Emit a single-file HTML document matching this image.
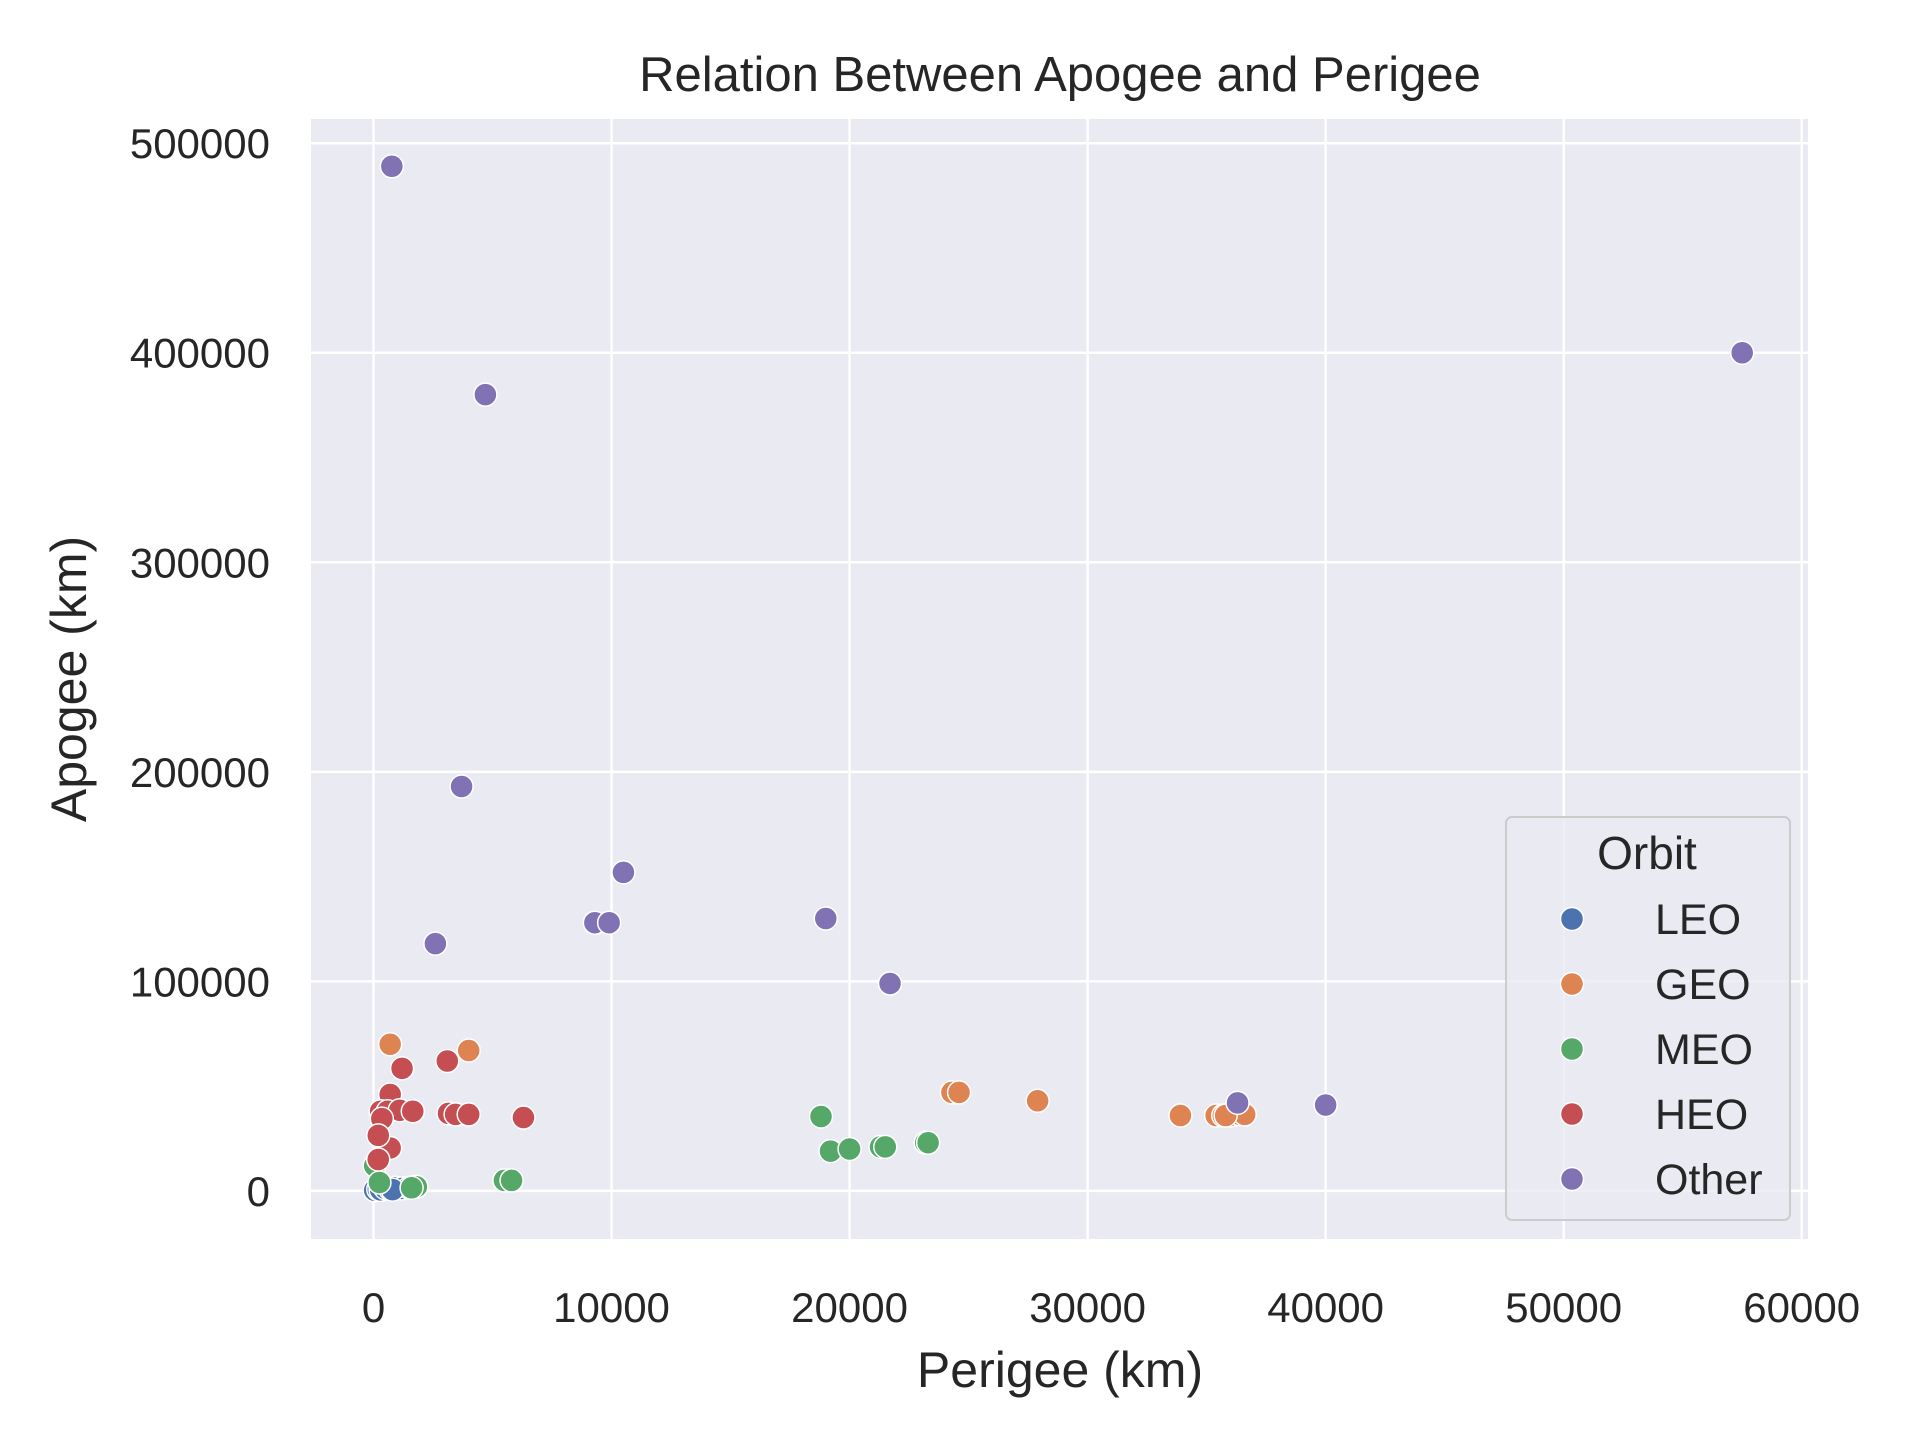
<!DOCTYPE html>
<html><head><meta charset="utf-8"><style>
html,body{margin:0;padding:0;background:#fff}
svg{display:block;font-family:"Liberation Sans",Arial,sans-serif}
</style></head><body>
<svg id="chart" width="1920" height="1440" viewBox="0 0 1920 1440">
<rect x="311" y="119" width="1497" height="1120" fill="#eaeaf2"/>
<g id="grid"></g>
<g id="points"></g>
<g id="ticks" fill="#262626" font-size="42"></g>
<text x="1060" y="91" text-anchor="middle" font-size="49" fill="#262626">Relation Between Apogee and Perigee</text>
<text x="1060" y="1387" text-anchor="middle" font-size="50" fill="#262626">Perigee (km)</text>
<text transform="translate(86,679) rotate(-90)" text-anchor="middle" font-size="50" fill="#262626">Apogee (km)</text>
<g id="legend">
<rect x="1506" y="817" width="284" height="403" rx="6" fill="#eaeaf2" fill-opacity="0.8" stroke="#cccccc" stroke-width="2"/>
<text x="1647" y="869" text-anchor="middle" font-size="46" fill="#262626">Orbit</text>
</g>
</svg>
<script>
const categories = ["LEO","GEO","MEO","HEO","Other"];
const colors = ["#4c72b0","#dd8452","#55a868","#c44e52","#8172b3"];
const xTicks = [0,10000,20000,30000,40000,50000,60000];
const yTicks = [0,100000,200000,300000,400000,500000];
const leoPerigee = [50,200,300,500,700,900,1200,1500,800];
const leoApogee  = [300,800,500,1200,900,1500,1200,1500,600];
const geoPerigee = [700,4000,24300,24600,27900,33900,35400,35700,36000,36400,36600,35800];
const geoApogee  = [70000,67000,47000,47000,43000,36000,36000,36000,36000,36500,36500,36000];
const meoPerigee = [18800,19200,20000,21300,21500,23200,23300,5500,5800,50,250,1800,1600];
const meoApogee  = [35500,19000,20000,21000,21000,23000,23000,5000,5000,12000,4000,2000,1500];
const heoPerigee = [1200,3100,700,300,600,1100,1650,3150,3450,4000,6300,350,700,200,200];
const heoApogee  = [58500,62000,46000,38000,38000,38500,38000,37000,36500,36500,35000,34500,20500,26500,15000];
const otherPerigee = [770,57500,4700,3700,10500,9300,9900,19000,2600,21700,36300,40000];
const otherApogee  = [489000,400000,380000,193000,152000,128000,128000,130000,118000,99000,42000,41000];
const seriesX = [leoPerigee,geoPerigee,meoPerigee,heoPerigee,otherPerigee];
const seriesY = [leoApogee,geoApogee,meoApogee,heoApogee,otherApogee];
const NS="http://www.w3.org/2000/svg";
const xs = v => 373.5 + v*(1801.7-373.5)/60000;
const ys = v => 1190.9 - v*(1190.9-143.2)/500000;
const grid=document.getElementById('grid'), ticks=document.getElementById('ticks'), pts=document.getElementById('points'), leg=document.getElementById('legend');
function mk(tag,attrs,parent){const e=document.createElementNS(NS,tag);for(const k in attrs)e.setAttribute(k,attrs[k]);parent.appendChild(e);return e;}
xTicks.forEach(t=>{
  const l=mk('line',{x1:xs(t),x2:xs(t),y1:119,y2:1239,stroke:'#fff','stroke-width':2.5},grid);
  
  
  const tx=mk('text',{x:xs(t),y:1322,'text-anchor':'middle'},ticks);tx.textContent=t;
  
  
});
yTicks.forEach(t=>{
  const l=mk('line',{x1:311,x2:1808,y1:ys(t),y2:ys(t),stroke:'#fff','stroke-width':2.5},grid);
  
  
  const tx=mk('text',{x:270,y:ys(t)+15,'text-anchor':'end'},ticks);tx.textContent=t;
  
  
});
seriesX.forEach((xarr,i)=>{
  xarr.forEach((xv,j)=>{
    const c=mk('circle',{cx:xs(xv),cy:ys(seriesY[i][j]),r:11.5,fill:colors[i],stroke:'#fff','stroke-width':1.5},pts);
    
    
  });
});
categories.forEach((c,i)=>{
  const y=919+i*65;
  const m=mk('circle',{cx:1572,cy:y,r:11.5,fill:colors[i],stroke:'#fff','stroke-width':1.5},leg);
  
  
  const t=mk('text',{x:1655,y:y+15,'font-size':43,fill:'#262626'},leg);t.textContent=c;
  
  
});
</script>
</body></html>
